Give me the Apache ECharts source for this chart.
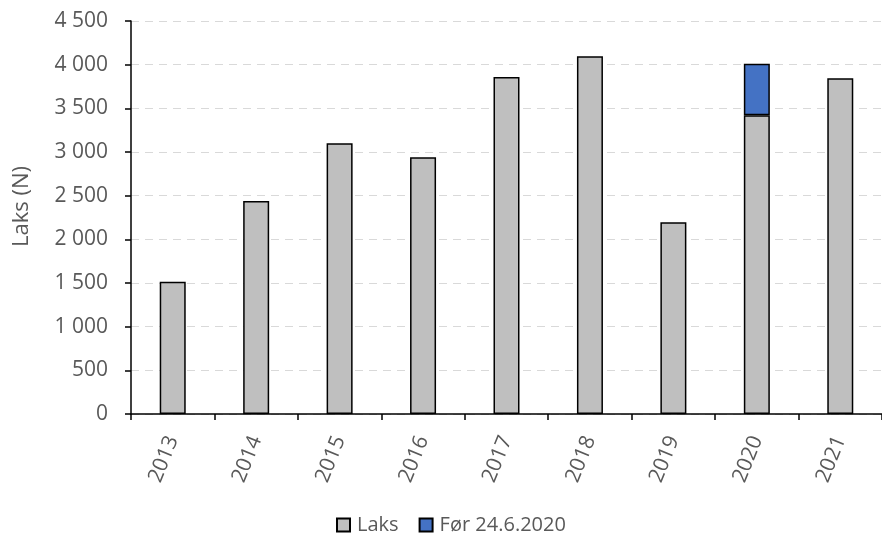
<!DOCTYPE html>
<html>
<head>
<meta charset="utf-8">
<script src="https://cdn.jsdelivr.net/npm/echarts@6/dist/echarts.min.js"></script>
<style>
  html, body { margin: 0; padding: 0; background: #ffffff; }
  #chart { width: 882px; height: 535px; }
</style>
</head>
<body>
<div id="chart"></div>
<script>
// Annual salmon counts; 2020 split into the count from 24.6 onward and the count before it
const years = ['2013', '2014', '2015', '2016', '2017', '2018', '2019', '2020', '2021'];
const laks = [1515, 2440, 3100, 2940, 3860, 4095, 2195, 3420, 3845];
const forDato = ['-', '-', '-', '-', '-', '-', '-', 590, '-'];
const yTicks = [0, 500, 1000, 1500, 2000, 2500, 3000, 3500, 4000, 4500];

const FONT = '"Open Sans", Lato, sans-serif';
const TEXT = '#595959';

// Thousands grouped with a space, e.g. 4 500
function spaced(v) {
  return String(v).replace(/\B(?=(\d{3})+(?!\d))/g, ' ');
}

const chart = echarts.init(document.getElementById('chart'), null, { renderer: 'canvas' });

chart.setOption({
  animation: false,
  backgroundColor: '#ffffff',
  textStyle: { fontFamily: FONT },
  // the category axis runs a little past the right edge of the canvas
  grid: { left: 131, right: -8, top: 21, bottom: 121, containLabel: false },
  legend: {
    bottom: 0,
    left: 336,
    padding: 0,
    itemWidth: 13,
    itemHeight: 13,
    itemGap: 20,
    icon: 'rect',
    textStyle: { color: TEXT, fontSize: 20, fontFamily: FONT, padding: [0, 0, 0, 2] },
    data: ['Laks', 'Før 24.6.2020']
  },
  xAxis: {
    type: 'category',
    data: years,
    boundaryGap: true,
    axisLine: { lineStyle: { color: '#000000', width: 1.5 } },
    axisTick: { show: true, length: 6, lineStyle: { color: '#000000', width: 1.5 } },
    axisLabel: {
      rotate: 68,
      color: TEXT,
      fontSize: 21,
      fontFamily: FONT,
      margin: 23
    },
    splitLine: { show: false }
  },
  yAxis: {
    type: 'value',
    min: yTicks[0],
    max: yTicks[yTicks.length - 1],
    interval: yTicks[1] - yTicks[0],
    name: 'Laks (N)',
    nameLocation: 'middle',
    nameGap: 98,
    nameTextStyle: { color: TEXT, fontSize: 22, fontFamily: FONT, padding: [0, 0, 0, 22] },
    axisLine: { show: true, lineStyle: { color: '#000000', width: 1.5 } },
    axisTick: { show: true, length: 6, lineStyle: { color: '#000000', width: 1.5 } },
    axisLabel: {
      color: TEXT,
      fontSize: 21,
      fontFamily: FONT,
      margin: 23,
      formatter: spaced
    },
    splitLine: { show: true, lineStyle: { color: '#d9d9d9', width: 1, type: [8, 6] } }
  },
  series: [
    {
      name: 'Laks',
      type: 'bar',
      stack: 'total',
      barWidth: 26,
      data: laks,
      itemStyle: { color: '#bfbfbf', borderColor: '#000000', borderWidth: 1.5 }
    },
    {
      name: 'Før 24.6.2020',
      type: 'bar',
      stack: 'total',
      barWidth: 26,
      data: forDato,
      itemStyle: { color: '#4472c4', borderColor: '#000000', borderWidth: 1.5 }
    }
  ]
});
</script>
</body>
</html>
